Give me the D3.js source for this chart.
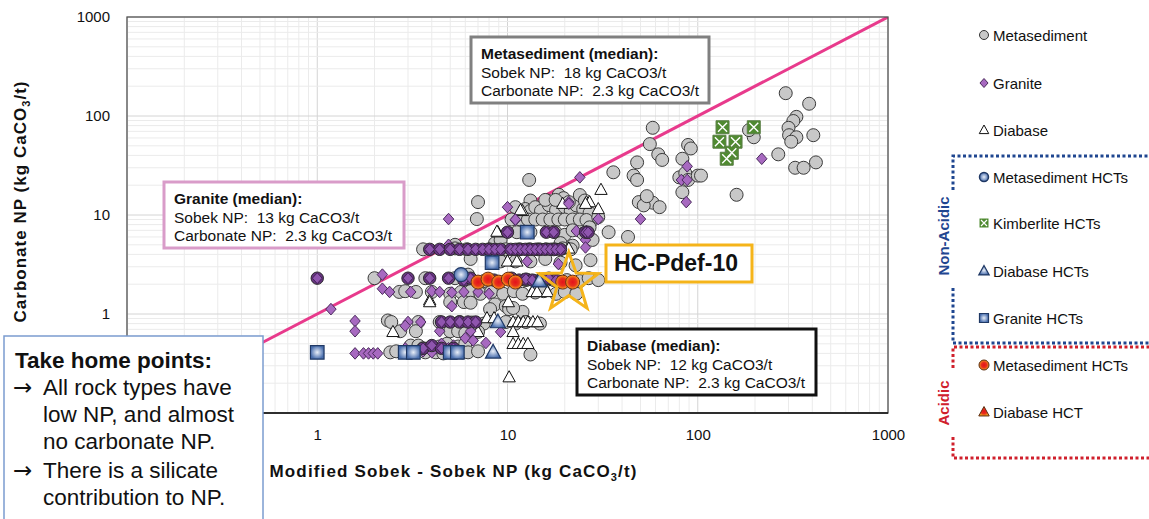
<!DOCTYPE html>
<html>
<head>
<meta charset="utf-8">
<script src="https://cdn.jsdelivr.net/npm/d3@7"></script>
<style>
body{margin:0;background:#fff;}
svg text{font-family:"Liberation Sans",Arial,sans-serif;fill:#111;}
</style>
</head>
<body>
<svg id="chart" width="1149" height="519"></svg>
<script>
// values: [Modified Sobek - Sobek NP, Carbonate NP]
var metasediment = [
 [290,170],[385,133],[330,98],[318,89],[300,76],[302,64],[330,61],[310,55],[405,64],[265,41],[325,30],[360,30],[418,34],[197,61],[186,72],[160,16],
 [58,76],[56,52],[62,41],[65,36],[48,34],[36,27],[46,25],[48,22.6],[89,51],[92,47],[83,37],[80,24],[86,26.5],[89,22.6],[100,25],[104,25],[83,17],
 [49,13.5],[54,14.2],[58,13.3],[52,12.5],[63,12],[54,15.5],[13,22.6],[7,13.5],[6.9,9.1],[13.2,14],[16.2,14],[18.6,16],[19.7,14.8],[34,6.7],[43,6],[28,8.9],
 [11,12],[12.4,11.5],[13.2,11],[14,12],[15,11],[16.5,12.6],[18,11.2],[20,12],[21.5,11],[23,12.5],[25,11.5],[27,10.5],
 [10.5,9],[11.7,9],[12.8,9],[14,9],[15.3,9],[16.8,9],[18.5,9],[20,9],[22,9],[24,9],[26,8.9],[30,9.5],
 [15.8,14.2],[17.9,14.2],[21,13.5],[24,15.9],[25.5,14],
 [11.2,6.7],[13.2,6.7],[17.9,6.7],[20,6.3],[22,7],[25,6.5],[27,7.5],
 [5.3,5],[8.6,5.2],[9.2,5.6],[19,5.2],[28,5.6],[22,4.9],
 [3.6,4.5],[5.3,4.6],[6.1,4.5],[8,4.5],[9.8,4.5],[11.5,4.5],[13,4.5],[14.5,4.5],[16,4.5],[17.5,4.5],[19.5,4.6],[21.5,4.5],
 [6.4,3.6],[9.2,3.4],[11,3.4],[13.2,3.4],[15.8,3.6],[19,3.3],[22.8,3.1],[27.3,3.5],
 [2,2.3],[3.7,2.3],[5.3,2.3],[6.2,2.5],
 [6.4,2.2],[7.5,2.15],[12.5,2.2],[14,2.15],[16,2.2],[17.5,2.2],[20.5,2.2],[24,2.15],[26.7,2.3],[30,2.2],
 [2.7,1.67],[2.9,1.7],[3.3,1.67],[4.0,1.67],[5.0,1.6],[5.7,1.67],[6.4,1.7],[7.2,1.6],[8.2,1.67],[9.5,1.6],[10.8,1.7],[12,1.6],[14,1.65],[15.5,1.7],[18,1.6],[20,1.67],[23,1.6],
 [5.0,1.32],[5.9,1.32],[6.4,1.3],[8.6,1.25],[9.8,1.2],
 [8.1,1.12],[10.2,1.12],[12,1.05],[10.7,1.15],
 [2.35,0.86],[2.45,0.83],[3.4,0.83],[4.4,0.83],[5.1,0.8],[5.6,0.83],[6.5,0.82],[7.5,0.8],[9.8,0.83],[11,0.8],[12.5,0.83],[14.8,0.8],
 [2.73,0.67],[3.3,0.67],[5.0,0.67],[5.5,0.67],[6.0,0.64],[7.0,0.66],
 [3.1,0.48],[3.4,0.48],[3.6,0.45],[3.9,0.45],[4.4,0.47],[4.8,0.5],[5.5,0.47],[6.0,0.5],
 [2.42,0.41],[2.6,0.42],[3.7,0.41],[4.2,0.41],[4.6,0.4],[5.8,0.41],[6.2,0.41],[7.0,0.42],[13.2,0.39]
];
var granite = [
 [24,24],[217,37],[88,31],[82,22.6],[88,22.6],[87,13.5],[50,9.1],[21,13.5],[10,12],[4.9,9.1],[30,9.1],[11,8.9],[23,6.9],[26,6.9],[21,13],[11,9],
 [25.7,5.6],[25.7,4.7],[4.9,5.0],[12.7,3.4],[18.5,3.2],
 [2.2,2.5],[1.18,1.12],[1.58,0.85],[1.58,0.67],[2.2,1.8],[2.4,1.67],[3.1,1.67],[4.0,1.7],[4.4,1.67],[5.1,1.65],[5.9,1.67],[7,1.67],[8,1.6],[5.1,1.2],
 [3.0,0.83],[3.5,0.83],[2.9,0.76],[4.4,0.67],[6.4,0.67],[9.2,0.66],
 [1.58,0.4],[1.75,0.4],[1.86,0.4],[1.97,0.4],[2.08,0.4],[2.9,0.45],[4.2,0.45],[4.5,0.5],[4.9,0.45],[5.2,0.48],[5.4,0.41],[4.0,0.41],[6.0,0.57],[6.6,0.54],[7.7,0.51],[3.6,0.42]
];
var graniteDense = [
 [3.9,4.5],[4.4,4.5],[5.0,4.5],[5.6,4.5],[6.2,4.5],[6.8,4.5],[7.4,4.5],[8,4.5],[8.6,4.5],[9.2,4.5],[10.4,4.5],[11,4.5],[11.7,4.5],[12.4,4.5],[13.2,4.5],[14,4.5],[14.9,4.5],[15.8,4.5],[16.8,4.5],[17.9,4.5],[19,4.5],
 [1,2.3],[3.0,2.3],[3.9,2.3],[4.9,2.3],
 [5.9,2.2],[6.4,2.3],[8.5,2.2],[10.5,2.3],[11.5,2.2],[12.5,2.25],[13.5,2.2],[15,2.2],[16.5,2.3],[18,2.2],
 [4.5,0.83],[5.0,0.83],[5.6,0.83],[6.2,0.83],[6.8,0.83],
 [3.6,0.45],[4.0,0.48],[4.5,0.45],[5.2,0.45],
 [10,6.7],[16,6.7],[17.5,6.7],[25.7,6.7],[26.5,6.7]
];
var diabase = [
 [31,18],[26,13.5],[27,13.5],[30,11.5],[12,11],[8.9,6.7],[21,4.6],[25.7,13],[19.5,13],[8.8,6.8],[11.7,11.2],
 [3.9,1.38],[10.1,1.32],[13.5,1.67],[14.3,1.67],[16.2,1.67],[10,3.4],[11.2,3.4],
 [12,2.2],[13,2.2],[14.5,2.2],[16,2.25],[17,2.2],
 [7.8,0.91],[8.5,0.91],[10.7,0.83],[11.4,0.83],[12.1,0.83],[12.8,0.83],[13.6,0.83],[14.4,0.83],
 [2.5,0.66],[7,0.66],[10.7,0.66],[10.7,0.5],[11.4,0.5],[12.1,0.5],[12.8,0.5],[10.2,0.23],[3.9,1.32]
];
var metasedimentHCT = [[5.7,2.5]];
var kimberliteHCT = [[135,77],[197,77],[130,55],[158,55],[151,42.5],[142,37]];
var diabaseHCT = [[14.7,2.15],[8.9,0.83],[8.4,0.41]];
var graniteHCT = [[12.7,6.7],[8.3,3.3],[1,0.41],[2.9,0.41],[3.2,0.41],[5,0.41],[5.45,0.41]];
var metasedimentHCTAcid = [[7,2.1],[7.9,2.25],[9,2.1],[10.1,2.25],[11,2.1],[19.5,2.1],[22,2.1]];
var diabaseHCTAcid = [];
var hcPdef10 = [21,2.05];

// 0.1 labels sit under the take-home box in the original, so only these show
var tickValues = [1,10,100,1000];
var legendLabels = ["Metasediment","Granite","Diabase","Metasediment HCTs","Kimberlite HCTs","Diabase HCTs","Granite HCTs","Metasediment HCTs","Diabase HCT"];
var legendShapes = ["meta","granite","diabase","metaHCT","kimb","diabaseHCT","graniteHCT","metaAcid","diabaseAcid"];

var svg = d3.select('#chart');
var pLeft = 127, pRight = 888, pTop = 17, pBottom = 413;
var x = d3.scaleLog().domain([0.1,1000]).range([pLeft,pRight]);
var y = d3.scaleLog().domain([0.1,1000]).range([pBottom,pTop]);

var defs = svg.append('defs');
defs.append('clipPath').attr('id','plotclip').append('rect')
	.attr('x',pLeft).attr('y',pTop).attr('width',pRight-pLeft).attr('height',pBottom-pTop);
var gBlue = defs.append('radialGradient').attr('id','blueGrad');
gBlue.append('stop').attr('offset','0%').attr('stop-color','#e8eef8');
gBlue.append('stop').attr('offset','100%').attr('stop-color','#4a6fae');
var gRed = defs.append('radialGradient').attr('id','redGrad');
gRed.append('stop').attr('offset','0%').attr('stop-color','#e3121b');
gRed.append('stop').attr('offset','55%').attr('stop-color','#e8321c');
gRed.append('stop').attr('offset','100%').attr('stop-color','#f7a21b');

function isDecade(d){ return Math.abs(Math.log10(d) - Math.round(Math.log10(d))) < 1e-9; }

// gridlines
var grid = svg.append('g');
grid.selectAll('.vg').data(x.ticks()).enter().append('line')
	.attr('x1',function(d){ return x(d) }).attr('x2',function(d){ return x(d) })
	.attr('y1',pTop).attr('y2',pBottom)
	.attr('stroke',function(d){ return isDecade(d) ? '#d4d4d4' : '#ebebeb' })
	.attr('stroke-width',1);
grid.selectAll('.hg').data(y.ticks()).enter().append('line')
	.attr('y1',function(d){ return y(d) }).attr('y2',function(d){ return y(d) })
	.attr('x1',pLeft).attr('x2',pRight)
	.attr('stroke',function(d){ return isDecade(d) ? '#d4d4d4' : '#ebebeb' })
	.attr('stroke-width',1);

var plot = svg.append('g').attr('clip-path','url(#plotclip)');

// 1:1 line
plot.append('line')
	.attr('x1',x(0.1)).attr('y1',y(0.1)).attr('x2',x(1000)).attr('y2',y(1000))
	.attr('stroke','#e83a8c').attr('stroke-width',3);

function shapePath(kind, r){
	if(kind === 'circle') return d3.symbol(d3.symbolCircle, Math.PI*r*r)();
	if(kind === 'diamond') return 'M0,'+(-r)+'L'+(r*0.9)+',0L0,'+r+'L'+(-r*0.9)+',0Z';
	if(kind === 'triangle') return 'M0,'+(-r)+'L'+(r*0.95)+','+(r*0.72)+'L'+(-r*0.95)+','+(r*0.72)+'Z';
	return 'M'+(-r)+','+(-r)+'h'+(2*r)+'v'+(2*r)+'h'+(-2*r)+'Z';
}

function drawSeries(data, kind, r, fill, stroke, sw){
	return plot.append('g').selectAll('path')
		.data(data).enter().append('path')
		.attr('transform',function(d){ return 'translate('+x(d[0])+','+y(d[1])+')' })
		.attr('d',shapePath(kind,r))
		.attr('fill',fill).attr('stroke',stroke).attr('stroke-width',sw);
}

drawSeries(metasediment,'circle',6.5,'#c8c8c8','#3a3a3a',1);
drawSeries(diabase,'triangle',6.5,'#ffffff','#111',1);
drawSeries(granite,'diamond',5.8,'#a769c0','#4a2a5c',1);
drawSeries(graniteDense,'circle',6.2,'#66347f','#2a2a2a',1);
drawSeries(graniteDense,'diamond',5.4,'#8f55ae','#3b1a4d',0.8);
drawSeries(kimberliteHCT,'square',6.5,'#4f8a30','#5a7f46',1);
plot.append('g').selectAll('path').data(kimberliteHCT).enter().append('path')
	.attr('transform',function(d){ return 'translate('+x(d[0])+','+y(d[1])+')' })
	.attr('d','M-4.5,-4.5L4.5,4.5M4.5,-4.5L-4.5,4.5')
	.attr('stroke','#fff').attr('stroke-width',1.4);
drawSeries(graniteHCT,'square',6.8,'url(#blueGrad)','#1f3864',1.2);
drawSeries(metasedimentHCT,'circle',7,'url(#blueGrad)','#1f3864',1.2);
drawSeries(diabaseHCT,'triangle',8,'url(#blueGrad)','#1f3864',1.2);
drawSeries(metasedimentHCTAcid,'circle',7,'url(#redGrad)','#6b2a10',1);
drawSeries(diabaseHCTAcid,'triangle',7,'url(#redGrad)','#6b2a10',1);

// highlight star for HC-Pdef-10
var starPts = [];
for(var i = 0; i < 10; i++){
	var rr = i % 2 === 0 ? 31 : 12.5;
	var a = -Math.PI/2 + i*Math.PI/5;
	starPts.push([rr*Math.cos(a), rr*Math.sin(a)]);
}
svg.append('path')
	.attr('transform','translate('+x(hcPdef10[0])+','+y(hcPdef10[1])+')')
	.attr('d',d3.line()(starPts)+'Z')
	.attr('fill','none').attr('stroke','#f5b41a').attr('stroke-width',3).attr('stroke-linejoin','miter');

// plot border
svg.append('rect').attr('x',pLeft).attr('y',pTop).attr('width',pRight-pLeft).attr('height',pBottom-pTop)
	.attr('fill','none').attr('stroke','#555').attr('stroke-width',1.3);
svg.append('line').attr('x1',pLeft).attr('x2',pRight).attr('y1',pBottom).attr('y2',pBottom)
	.attr('stroke','#111').attr('stroke-width',1.5);

// axes
var fmt = function(d){ return String(d) };
svg.append('g').attr('transform','translate(0,'+pBottom+')')
	.call(d3.axisBottom(x).tickValues(tickValues).tickFormat(fmt).tickSize(0).tickPadding(16))
	.call(function(g){ g.select('.domain').remove() })
	.selectAll('text').style('font-size','15px').style('font-family','"Liberation Sans",Arial,sans-serif').attr('fill','#111');
svg.append('g').attr('transform','translate('+pLeft+',0)')
	.call(d3.axisLeft(y).tickValues(tickValues).tickFormat(fmt).tickSize(0).tickPadding(17))
	.call(function(g){ g.select('.domain').remove() })
	.selectAll('text').style('font-size','15px').style('font-family','"Liberation Sans",Arial,sans-serif').attr('fill','#111');

// axis titles
var xt = svg.append('text').attr('x',453).attr('y',477).attr('text-anchor','middle')
	.attr('textLength',367).attr('lengthAdjust','spacing')
	.style('font-size','17px').style('font-weight','bold');
xt.append('tspan').text('Modified Sobek - Sobek NP (kg CaCO');
xt.append('tspan').attr('font-size','11px').attr('dy',4).text('3');
xt.append('tspan').attr('dy',-4).text('/t)');
var yt = svg.append('text').attr('transform','translate(26,202) rotate(-90)').attr('text-anchor','middle')
	.attr('textLength',241).attr('lengthAdjust','spacing')
	.style('font-size','17px').style('font-weight','bold');
yt.append('tspan').text('Carbonate NP (kg CaCO');
yt.append('tspan').attr('font-size','11px').attr('dy',4).text('3');
yt.append('tspan').attr('dy',-4).text('/t)');

// median boxes
function medianBox(bx, by, bw, bh, color, lines){
	svg.append('rect').attr('x',bx).attr('y',by).attr('width',bw).attr('height',bh)
		.attr('fill','#fff').attr('stroke',color).attr('stroke-width',3);
	lines.forEach(function(t,i){
		svg.append('text').attr('x',bx+10).attr('y',by+22+i*18.5)
			.style('font-size','15.5px').style('white-space','pre')
			.style('font-weight',i === 0 ? 'bold' : 'normal').text(t);
	});
}
medianBox(471,37,238,66,'#808080',['Metasediment (median):','Sobek NP:  18 kg CaCO3/t','Carbonate NP:  2.3 kg CaCO3/t']);
medianBox(164,182,240,66,'#d99cc9',['Granite (median):','Sobek NP:  13 kg CaCO3/t','Carbonate NP:  2.3 kg CaCO3/t']);
medianBox(577,329,239,66,'#111',['Diabase (median):','Sobek NP:  12 kg CaCO3/t','Carbonate NP:  2.3 kg CaCO3/t']);

// HC-Pdef-10 label
svg.append('rect').attr('x',606).attr('y',245).attr('width',146).attr('height',37)
	.attr('fill','#fff').attr('stroke','#f5b41a').attr('stroke-width',3);
svg.append('text').attr('x',614).attr('y',271).style('font-size','23px').style('font-weight','bold').text('HC-Pdef-10');

// take home box
svg.append('rect').attr('x',4).attr('y',336).attr('width',259).attr('height',190)
	.attr('fill','#fff').attr('stroke','#7b9ccf').attr('stroke-width',1.5);
svg.append('text').attr('x',15).attr('y',368).style('font-size','22.5px').style('font-weight','bold').text('Take home points:');
var homeLines = [['\u2192','All rock types have'],['','low NP, and almost'],['','no carbonate NP.'],['\u2192','There is a silicate'],['','contribution to NP.']];
var homeY = [395,422,449,478,505];
homeLines.forEach(function(l,i){
	if(l[0]) svg.append('text').attr('x',13).attr('y',homeY[i]).style('font-family','"DejaVu Sans",sans-serif').style('font-size','23px').text(l[0]);
	svg.append('text').attr('x',43).attr('y',homeY[i]).style('font-size','22.5px').text(l[1]);
});

// legend
var legY = [35,83,130,177,223,271,318,365,412];
var leg = svg.append('g');
legendShapes.forEach(function(s,i){
	var g = leg.append('g').attr('transform','translate(984,'+legY[i]+')');
	if(s === 'meta') g.append('path').attr('d',shapePath('circle',4.5)).attr('fill','#c8c8c8').attr('stroke','#333');
	if(s === 'granite') g.append('path').attr('d',shapePath('diamond',4.5)).attr('fill','#a769c0').attr('stroke','#4a2a5c');
	if(s === 'diabase') g.append('path').attr('d',shapePath('triangle',5)).attr('fill','#fff').attr('stroke','#111');
	if(s === 'metaHCT') g.append('path').attr('d',shapePath('circle',4.5)).attr('fill','url(#blueGrad)').attr('stroke','#1f3864').attr('stroke-width',1.5);
	if(s === 'kimb'){
		g.append('path').attr('d',shapePath('square',4.5)).attr('fill','#4f8a30');
		g.append('path').attr('d','M-3,-3L3,3M3,-3L-3,3').attr('stroke','#fff').attr('stroke-width',1.2);
	}
	if(s === 'diabaseHCT') g.append('path').attr('d',shapePath('triangle',5.5)).attr('fill','url(#blueGrad)').attr('stroke','#1f3864').attr('stroke-width',1.2);
	if(s === 'graniteHCT') g.append('path').attr('d',shapePath('square',4.5)).attr('fill','url(#blueGrad)').attr('stroke','#1f3864').attr('stroke-width',1.2);
	if(s === 'metaAcid') g.append('path').attr('d',shapePath('circle',5)).attr('fill','url(#redGrad)').attr('stroke','#5a2a10');
	if(s === 'diabaseAcid') g.append('path').attr('d',shapePath('triangle',5.5)).attr('fill','url(#redGrad)').attr('stroke','#5a2a10');
	leg.append('text').attr('x',993).attr('y',legY[i]+5.5).style('font-size','15px').attr('fill','#222').text(legendLabels[i]);
});

// non-acidic / acidic brackets
var blue = '#1f4690', red = '#d0202c';
var br = svg.append('g').attr('fill','none').attr('stroke-width',3).attr('stroke-dasharray','3,2.5');
br.append('path').attr('d','M953,190V156H1149').attr('stroke',blue);
br.append('path').attr('d','M953,288V343H1149').attr('stroke',blue);
br.append('path').attr('d','M953,368V347H1149').attr('stroke',red);
br.append('path').attr('d','M953,437V458H1149').attr('stroke',red);
svg.append('text').attr('transform','translate(949,236) rotate(-90)').attr('text-anchor','middle')
	.style('font-size','15px').style('font-weight','bold').style('fill',blue).text('Non-Acidic');
svg.append('text').attr('transform','translate(949,403) rotate(-90)').attr('text-anchor','middle')
	.style('font-size','15px').style('font-weight','bold').style('fill',red).text('Acidic');
</script>
</body>
</html>
